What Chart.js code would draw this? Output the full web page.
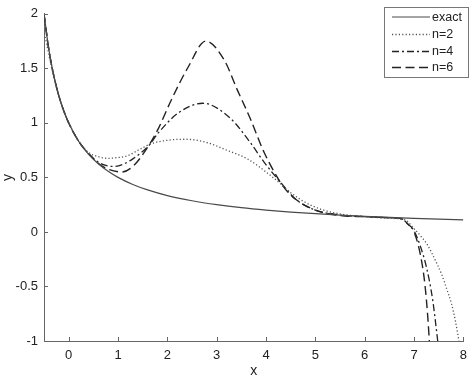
<!DOCTYPE html>
<html>
<head>
<meta charset="utf-8">
<script src="https://cdn.jsdelivr.net/npm/chart.js@4.4.1/dist/chart.umd.min.js"></script>
<style>
html,body{margin:0;padding:0;background:#fff;}
#wrap{width:474px;height:380px;}
</style>
</head>
<body>
<div id="wrap"><canvas id="c" width="474" height="380"></canvas></div>
<script>
// ---- data ----
const seriesLabels = ['exact', 'n=2', 'n=4', 'n=6'];

const xExact = [-0.5,-0.4,-0.3,-0.2,-0.1,0,0.2,0.4,0.6,0.8,1.0,1.3,1.6,2.0,2.5,3.0,3.5,4.0,4.5,5.0,5.5,6.0,6.5,7.0,7.5,8.0];
const yExact = [2.0,1.667,1.429,1.25,1.111,1.0,0.833,0.714,0.625,0.556,0.5,0.435,0.385,0.333,0.286,0.25,0.222,0.2,0.182,0.167,0.154,0.143,0.133,0.125,0.118,0.111];

const xN2 = [-0.5,-0.4,-0.3,-0.2,-0.1,0,0.2,0.4,0.6,0.8,0.96,1.2,1.45,1.68,2.0,2.36,2.8,3.2,3.62,4.0,4.22,4.5,4.8,5.1,5.5,6.0,6.5,6.82,7.0,7.14,7.28,7.42,7.56,7.66,7.76,7.84,7.91];
const yN2 = [1.85,1.62,1.42,1.25,1.11,1.0,0.835,0.73,0.69,0.675,0.68,0.7,0.76,0.81,0.84,0.85,0.82,0.75,0.67,0.55,0.47,0.36,0.27,0.21,0.165,0.14,0.125,0.11,0.03,-0.04,-0.125,-0.25,-0.39,-0.52,-0.66,-0.82,-1.0];

const xN4 = [-0.5,-0.4,-0.3,-0.2,-0.1,0,0.2,0.4,0.6,0.8,0.92,1.1,1.3,1.62,1.82,2.22,2.72,3.28,3.68,3.96,4.36,4.6,5.0,5.5,6.0,6.5,6.75,6.9,7.0,7.12,7.26,7.38,7.48];
const yN4 = [2.0,1.667,1.429,1.25,1.111,1.0,0.833,0.72,0.64,0.605,0.6,0.62,0.67,0.79,0.91,1.09,1.18,1.04,0.82,0.64,0.42,0.3,0.2,0.155,0.14,0.13,0.12,0.06,0.01,-0.12,-0.34,-0.63,-1.0];

const xN6 = [-0.5,-0.4,-0.3,-0.2,-0.1,0,0.2,0.4,0.6,0.8,1.08,1.3,1.62,1.82,2.08,2.42,2.78,3.16,3.42,3.68,3.96,4.36,4.6,5.0,5.5,6.0,6.5,6.75,6.88,6.98,7.12,7.22,7.28,7.31];
const yN6 = [2.0,1.667,1.429,1.25,1.111,1.0,0.833,0.72,0.63,0.575,0.55,0.6,0.79,0.95,1.21,1.51,1.75,1.57,1.30,1.04,0.73,0.41,0.3,0.2,0.15,0.14,0.13,0.12,0.07,0.02,-0.19,-0.48,-0.79,-1.0];

const xTickValues = [0,1,2,3,4,5,6,7,8];
const yTickValues = [-1,-0.5,0,0.5,1,1.5,2];

// ---- build chart ----
function pts(xs, ys){ return xs.map((x,i)=>({x:x, y:ys[i]})); }

const styles = [
  {color:'#4a4a4a', dash:[], width:1.2},
  {color:'#555555', dash:[1.2,2.2], width:1.3},
  {color:'#222222', dash:[7,3,2,3], width:1.3},
  {color:'#222222', dash:[9,4.5], width:1.4}
];
const allX = [xExact, xN2, xN4, xN6];
const allY = [yExact, yN2, yN4, yN6];

const datasets = seriesLabels.map((lab,i)=>({
  label: lab,
  data: pts(allX[i], allY[i]),
  showLine: true,
  borderColor: styles[i].color,
  borderDash: styles[i].dash,
  borderWidth: styles[i].width,
  pointRadius: 0,
  fill: false,
  cubicInterpolationMode: 'monotone'
}));

const FONT = 'Liberation Sans, Arial, sans-serif';

const innerTicks = {
  id: 'innerTicks',
  afterDraw(chart){
    const ctx = chart.ctx, xs = chart.scales.x, ys = chart.scales.y, a = chart.chartArea;
    ctx.save();
    ctx.strokeStyle = '#666';
    ctx.lineWidth = 1;
    ctx.beginPath();
    xTickValues.forEach(v=>{ const p = Math.round(xs.getPixelForValue(v))+0.5; ctx.moveTo(p, a.bottom); ctx.lineTo(p, a.bottom-4); });
    yTickValues.forEach(v=>{ const p = Math.round(ys.getPixelForValue(v))+0.5; ctx.moveTo(a.left, p); ctx.lineTo(a.left+4, p); });
    ctx.stroke();
    // legend
    const bx = 384.5, by = 7.5, bw = 84, bh = 70;
    ctx.fillStyle = '#fff';
    ctx.fillRect(bx, by, bw, bh);
    ctx.strokeStyle = '#777';
    ctx.setLineDash([]);
    ctx.strokeRect(bx, by, bw, bh);
    const rows = [17, 34.5, 51.5, 67.5];
    ctx.font = '12.5px ' + FONT;
    ctx.textBaseline = 'middle';
    ctx.textAlign = 'left';
    chart.data.datasets.forEach((d,i)=>{
      ctx.beginPath();
      ctx.strokeStyle = d.borderColor;
      ctx.lineWidth = d.borderWidth;
      ctx.setLineDash(d.borderDash);
      ctx.moveTo(392, rows[i]); ctx.lineTo(430, rows[i]);
      ctx.stroke();
      ctx.setLineDash([]);
      ctx.fillStyle = '#222';
      ctx.fillText(d.label, 432, rows[i]+0.5);
    });
    ctx.restore();
  }
};

new Chart(document.getElementById('c'), {
  type: 'scatter',
  data: { datasets },
  plugins: [innerTicks],
  options: {
    responsive: false,
    animation: false,
    layout: { padding: { top: 5, right: 6, left: 0, bottom: 0 } },
    plugins: { legend: { display: false }, tooltip: { enabled: false } },
    scales: {
      x: {
        type: 'linear', min: -0.5, max: 8,
        afterBuildTicks: s => { s.ticks = xTickValues.map(v=>({value:v})); },
        afterFit: s => { s.height = 39; },
        grid: { drawOnChartArea: false, drawTicks: false },
        border: { display: true, color: '#666', width: 1 },
        ticks: { color: '#222', font: { family: FONT, size: 13 }, padding: 7, maxRotation: 0, callback: v => String(v) },
        title: { display: true, text: 'x', color: '#222', font: { family: FONT, size: 14 }, padding: { top: 0, bottom: 0 } }
      },
      y: {
        type: 'linear', min: -1, max: 2,
        afterBuildTicks: s => { s.ticks = yTickValues.map(v=>({value:v})); },
        afterFit: s => { s.width = 44; },
        grid: { drawOnChartArea: false, drawTicks: false },
        border: { display: true, color: '#666', width: 1 },
        ticks: { color: '#222', font: { family: FONT, size: 13 }, padding: 6, callback: v => String(v) },
        title: { display: true, text: 'y', color: '#222', font: { family: FONT, size: 14 }, padding: { top: 0, bottom: 0 } }
      }
    }
  }
});
</script>
</body>
</html>
